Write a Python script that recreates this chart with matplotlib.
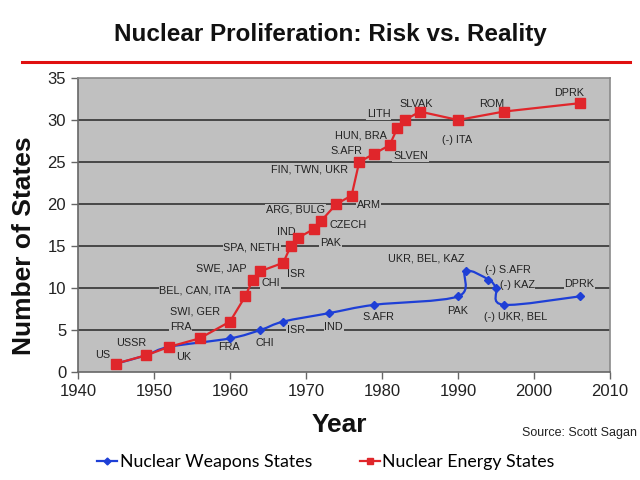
import matplotlib
matplotlib.use("Agg")
import matplotlib.pyplot as plt
import numpy as np
from matplotlib.lines import Line2D
from matplotlib.path import Path
from matplotlib.patches import PathPatch

plt.rcParams['font.family'] = ['Liberation Sans', 'DejaVu Sans']

########## Data

## Nuclear energy states (red)
energy_years = [1945, 1949, 1952, 1956, 1960, 1962, 1963, 1964, 1967, 1968, 1969, 1971,
                1972, 1974, 1976, 1977, 1979, 1981, 1982, 1983, 1985, 1990, 1996, 2006]
energy_counts = [1, 2, 3, 4, 6, 9, 11, 12, 13, 15, 16, 17,
                 18, 20, 21, 25, 26, 27, 29, 30, 31, 30, 31, 32]
energy_labels = ["US", "USSR", "UK", "FRA", "SWI, GER", "BEL, CAN, ITA", "SWE, JAP", "CHI",
                 "ISR", "SPA, NETH", "IND", "PAK", "CZECH", "ARG, BULG", "ARM", "FIN, TWN, UKR",
                 "S.AFR", "SLVEN", "HUN, BRA", "LITH", "SLVAK", "(-) ITA", "ROM", "DPRK"]

## Nuclear weapons states (blue)
weapons_years = [1945, 1949, 1952, 1960, 1964, 1967, 1973, 1979, 1990, 1991, 1994, 1995, 1996, 2006]
weapons_counts = [1, 2, 3, 4, 5, 6, 7, 8, 9, 12, 11, 10, 8, 9]
weapons_labels = ["", "", "", "FRA", "CHI", "ISR", "IND", "S.AFR", "PAK", "UKR, BEL, KAZ",
                  "(-) S.AFR", "(-) KAZ", "(-) UKR, BEL", "DPRK"]

year_ticks = [1940, 1950, 1960, 1970, 1980, 1990, 2000, 2010]
count_ticks = [0, 5, 10, 15, 20, 25, 30, 35]

########## Label offsets (pixels from each point)

energy_offsets = [(-13, 9), (-15, 12), (14, -10), (-19, 11), (-35, 10), (-50, 6), (-31, 11),
                  (10, -12), (13, -11), (-39, -2), (-12, 6), (17, -14), (27, -4), (-41, -6),
                  (17, -9), (-50, -8), (-28, 3), (21, -11), (-36, -7), (-26, 6), (-4, 8),
                  (-1, -20), (-12, 8), (-10, 10)]
weapons_offsets = [(0, 0), (0, 0), (0, 0), (-1, -9), (4, -13), (13, -8), (5, -14), (4, -12),
                   (0, -15), (-39, 13), (19, 10), (21, 3), (12, -12), (0, 12)]

red = '#E0262B'
blue = '#1E3FD6'
plot_bg = '#C0C0C0'

########## Figure

fig = plt.figure(figsize=(6.4, 4.8), dpi=100)
ax = fig.add_axes([78/640, 1-372/480, 532/640, 294/480])
ax.set_facecolor(plot_bg)
ax.set_xlim(1940, 2010)
ax.set_ylim(0, 35)
ax.set_xticks(year_ticks)
ax.set_yticks(count_ticks)
ax.tick_params(labelsize=12, colors='#222222', direction='out', length=5, width=1)
ax.tick_params(axis='both', color='#666666')
for s in ax.spines.values():
    s.set_color('#8a8a8a')
    s.set_linewidth(1.2)
ax.spines['left'].set_color('#666666')
ax.spines['bottom'].set_color('#666666')
for v in count_ticks[1:-1]:
    ax.axhline(v, color='#333333', lw=1.2, zorder=1)

## Smoothed blue curve (Catmull-Rom style bezier in display space)
pts = ax.transData.transform(np.column_stack([weapons_years, weapons_counts]))
verts = [pts[0]]
codes = [Path.MOVETO]
n = len(pts)
for i in range(n - 1):
    p0 = pts[max(i - 1, 0)]
    p1 = pts[i]
    p2 = pts[i + 1]
    p3 = pts[min(i + 2, n - 1)]
    c1 = p1 + (p2 - p0) / 6.0
    c2 = p2 - (p3 - p1) / 6.0
    verts += [c1, c2, p2]
    codes += [Path.CURVE4] * 3
verts = ax.transData.inverted().transform(np.array(verts))
ax.add_patch(PathPatch(Path(verts, codes), fill=False, edgecolor=blue, lw=1.6, zorder=3))
ax.plot(weapons_years, weapons_counts, linestyle='none', marker='D', color=blue,
        markersize=4, zorder=4)

ax.plot(energy_years, energy_counts, color=red, lw=1.6, marker='s', markersize=6.5,
        zorder=5)

## Labels
label_box = dict(facecolor=plot_bg, edgecolor='none', pad=0.6)
for yr, ct, txt, off in zip(energy_years, energy_counts, energy_labels, energy_offsets):
    ax.annotate(txt, xy=(yr, ct), xytext=off, textcoords='offset pixels', ha='center',
                va='center', fontsize=7.8, color='#222222', bbox=label_box, zorder=2)
for yr, ct, txt, off in zip(weapons_years, weapons_counts, weapons_labels, weapons_offsets):
    if txt:
        ax.annotate(txt, xy=(yr, ct), xytext=off, textcoords='offset pixels', ha='center',
                    va='center', fontsize=7.8, color='#222222', bbox=label_box, zorder=2)

## Titles and texts
fig.text(0.516, 1-35/480, "Nuclear Proliferation: Risk vs. Reality", ha='center', va='center',
         fontsize=17.5, fontweight='bold', color='#111111')
fig.add_artist(Line2D([22/640, 630/640], [1-62/480, 1-62/480], color='#E01010', lw=2.2))
fig.text(24/640, 1-246/480, "Number of States", rotation=90, ha='center', va='center',
         fontsize=19, fontweight='bold', color='#111111')
fig.text(339/640, 1-425/480, "Year", ha='center', va='center', fontsize=19,
         fontweight='bold', color='#111111')
fig.text(522/640, 1-433/480, "Source: Scott Sagan", ha='left', va='center', fontsize=9,
         color='#222222')

handles = [Line2D([], [], color=blue, marker='D', markersize=3.5, lw=1.6),
           Line2D([], [], color=red, marker='s', markersize=5, lw=1.6)]
fig.legend(handles, ["Nuclear Weapons States", "Nuclear Energy States"], loc='center',
           bbox_to_anchor=(326/640, 1-462/480), ncol=2, frameon=False, handlelength=1.1,
           handletextpad=0.15, columnspacing=2.7, prop={'family': 'Lato', 'size': 12.8})

fig.savefig("out.png", dpi=100, facecolor='white')
